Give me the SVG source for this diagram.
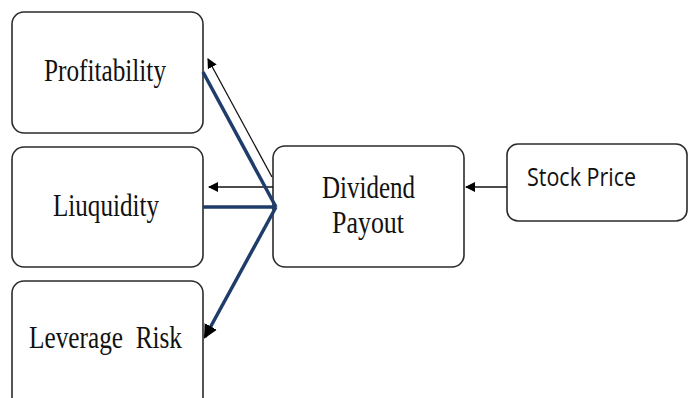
<svg xmlns="http://www.w3.org/2000/svg" width="688" height="398" viewBox="0 0 688 398">
<style>
.box{fill:#fff;stroke:#2b2b2b;stroke-width:1.6}
.serif{font-family:"Liberation Serif","Times New Roman",serif;font-size:32px;fill:#111}
.sans{font-family:"Open Sans","Liberation Sans",sans-serif;font-size:26px;fill:#111}
.thin{stroke:#111;stroke-width:1.3;fill:none}
.thick{stroke:#1f3d6b;stroke-width:3.5;fill:none}
</style>
<defs>
<marker id="ah" markerWidth="10" markerHeight="10" refX="9" refY="5" orient="auto" markerUnits="userSpaceOnUse" viewBox="0 0 10 10">
<path d="M0,0 L10,5 L0,10 Z" fill="#000"/>
</marker>
<marker id="ahb" markerWidth="14" markerHeight="14" refX="12" refY="7" orient="auto" markerUnits="userSpaceOnUse" viewBox="0 0 14 14">
<path d="M0,0 L14,7 L0,14 Z" fill="#000"/>
</marker>
</defs>
<rect width="688" height="398" fill="#fff"/>
<g id="profitability">
<rect class="box" x="12" y="12" width="191" height="121" rx="12"/>
<text class="serif" x="44" y="81" textLength="122" lengthAdjust="spacingAndGlyphs">Profitability</text>
</g>
<g id="liquidity">
<rect class="box" x="12" y="147" width="191" height="120" rx="12"/>
<text class="serif" x="53" y="216" textLength="106" lengthAdjust="spacingAndGlyphs">Liuquidity</text>
</g>
<g id="leverage-risk">
<rect class="box" x="12" y="281" width="191" height="130" rx="12"/>
<text class="serif" x="29" y="348" textLength="153" lengthAdjust="spacingAndGlyphs" xml:space="preserve">Leverage  Risk</text>
</g>
<g id="dividend-payout">
<rect class="box" x="273" y="146" width="191" height="121" rx="12"/>
<text class="serif" x="322" y="198" textLength="93" lengthAdjust="spacingAndGlyphs">Dividend</text>
<text class="serif" x="332" y="233" textLength="72" lengthAdjust="spacingAndGlyphs">Payout</text>
</g>
<g id="stock-price">
<rect class="box" x="507" y="144" width="180" height="77" rx="11"/>
<text class="sans" x="527" y="186" textLength="109" lengthAdjust="spacingAndGlyphs">Stock Price</text>
</g>
<g id="connectors">
<line class="thin" x1="272" y1="177" x2="208" y2="59" marker-end="url(#ah)"/>
<line class="thin" x1="273" y1="187" x2="209" y2="187" marker-end="url(#ah)"/>
<line class="thin" x1="507" y1="187" x2="466" y2="187" marker-end="url(#ah)"/>
<line class="thick" x1="203" y1="72" x2="276" y2="207"/>
<line class="thick" x1="203" y1="207" x2="276" y2="207"/>
<line class="thick" x1="276" y1="207" x2="205" y2="337" marker-end="url(#ahb)"/>
</g>
</svg>
